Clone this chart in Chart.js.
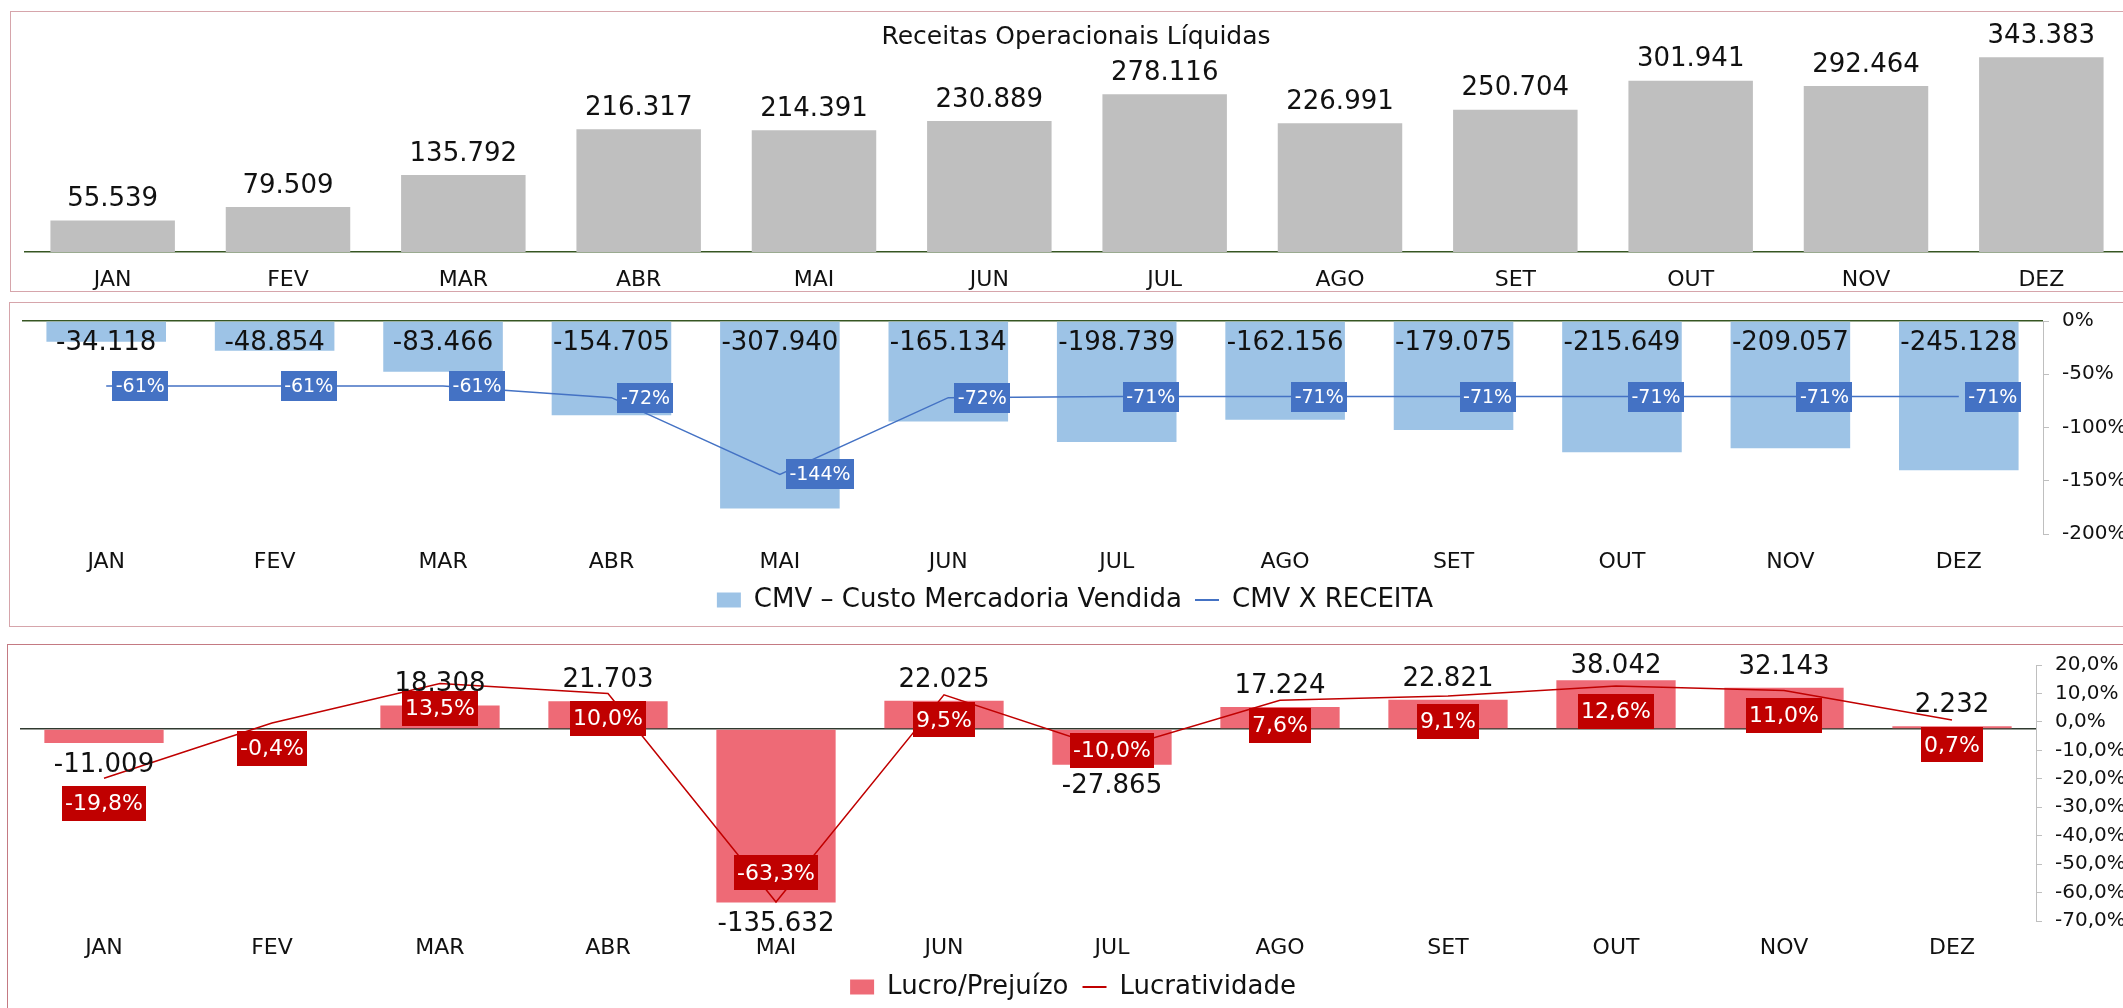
<!DOCTYPE html>
<html>
<head>
<meta charset="utf-8">
<script src="https://cdn.jsdelivr.net/npm/chart.js@4.4.0/dist/chart.umd.min.js"></script>
<style>
  html, body { margin: 0; padding: 0; background: #fff; overflow: hidden; }
  #wrap { position: relative; width: 2123px; height: 1008px; overflow: hidden; }
  .frame { position: absolute; border: 1.5px solid #d6a5ab; border-right: none; box-sizing: border-box; }
  canvas { position: absolute; left: 0; }
</style>
</head>
<body>
<div id="wrap">
  <div class="frame" style="left:10px; top:11px; width:2200px; height:281px;"></div>
  <div class="frame" style="left:9px; top:302px; width:2200px; height:325px;"></div>
  <div class="frame" style="left:7px; top:644px; width:2200px; height:400px; border-color:#c47a83;"></div>
  <canvas id="receitas" width="2150" height="300" style="top:0"></canvas>
  <canvas id="cmv" width="2150" height="335" style="top:295px"></canvas>
  <canvas id="lucro" width="2150" height="375" style="top:640px"></canvas>
</div>
<script>
// dados
const meses = ["JAN", "FEV", "MAR", "ABR", "MAI", "JUN", "JUL", "AGO", "SET", "OUT", "NOV", "DEZ"];
const receitas = [55539, 79509, 135792, 216317, 214391, 230889, 278116, 226991, 250704, 301941, 292464, 343383];
const cmv = [-34118, -48854, -83466, -154705, -307940, -165134, -198739, -162156, -179075, -215649, -209057, -245128];
const cmvXReceita = [-61, -61, -61, -72, -144, -72, -71, -71, -71, -71, -71, -71];
const lucro = [-11009, -318, 18308, 21703, -135632, 22025, -27865, 17224, 22821, 38042, 32143, 2232];
const lucratividade = [-19.8, -0.4, 13.5, 10.0, -63.3, 9.5, -10.0, 7.6, 9.1, 12.6, 11.0, 0.7];
const ticksCmvPct = [0, -50, -100, -150, -200];
const ticksLucroPct = [20, 10, 0, -10, -20, -30, -40, -50, -60, -70];

const FONT = '"DejaVu Sans", sans-serif';
const TXT = '#111';

const fmtInt = v => (v < 0 ? '-' : '') + Math.abs(Math.round(v)).toString().replace(/\B(?=(\d{3})+(?!\d))/g, '.');
const fmtPct1 = v => v.toFixed(1).replace('.', ',') + '%';

// rótulos das barras
function barLabelsPlugin(mode) {
    return {
        id: 'barLabels',
        afterDatasetsDraw(chart) {
            const ctx = chart.ctx;
            const ds = chart.data.datasets[0];
            const meta = chart.getDatasetMeta(0);
            const zero = chart.scales.y.getPixelForValue(0);
            ctx.save();
            ctx.font = '26px ' + FONT;
            ctx.fillStyle = TXT;
            ctx.textAlign = 'center';
            ctx.textBaseline = 'middle';
            meta.data.forEach((bar, i) => {
                const v = ds.data[i];
                let y;
                if (mode === 'base') y = zero + 22;
                else y = v >= 0 ? bar.y - 21 : bar.y + 22;
                y = Math.max(y, chart.chartArea.top + 1);
                ctx.fillText(fmtInt(v), bar.x, y);
            });
            ctx.restore();
        }
    };
}

// caixas com o percentual da linha
function lineBoxesPlugin(cfg) {
    return {
        id: 'lineBoxes',
        afterDatasetsDraw(chart) {
            const ctx = chart.ctx;
            const ds = chart.data.datasets[1];
            const meta = chart.getDatasetMeta(1);
            ctx.save();
            ctx.font = cfg.size + 'px ' + FONT;
            ctx.textBaseline = 'middle';
            ctx.textAlign = 'center';
            meta.data.forEach((pt, i) => {
                const text = cfg.format(ds.data[i]);
                const w = ctx.measureText(text).width + cfg.padX;
                const h = cfg.height;
                let cx, cy;
                if (cfg.side === 'right') {
                    cx = pt.x + 6 + w / 2;
                    cy = pt.y;
                } else {
                    const pos = cfg.positions[i];
                    cx = pt.x;
                    cy = pos === 'above' ? pt.y - 29 : pos === 'center' ? pt.y : pt.y + 25;
                }
                ctx.fillStyle = cfg.bg;
                ctx.fillRect(Math.round(cx - w / 2), Math.round(cy - h / 2), Math.round(w), h);
                ctx.fillStyle = '#fff';
                ctx.fillText(text, cx, cy + 1);
            });
            ctx.restore();
        }
    };
}

const titlePlugin = {
    id: 'overlayTitle',
    afterDraw(chart) {
        const ctx = chart.ctx;
        ctx.save();
        ctx.font = '25px ' + FONT;
        ctx.fillStyle = TXT;
        ctx.textAlign = 'center';
        ctx.textBaseline = 'middle';
        ctx.fillText('Receitas Operacionais Líquidas', 1076, 37);
        ctx.restore();
    }
};

function legendOpts(padding) {
    return {
        display: true,
        position: 'bottom',
        labels: {
            font: { family: FONT, size: 26 },
            color: TXT,
            usePointStyle: true,
            pointStyleWidth: 24,
            boxHeight: 15,
            padding: padding,
            generateLabels(chart) {
                const items = Chart.defaults.plugins.legend.labels.generateLabels(chart);
                items.sort((a, b) => a.datasetIndex - b.datasetIndex);
                items.forEach(it => {
                    const ds = chart.data.datasets[it.datasetIndex];
                    if (ds.type === 'line') {
                        it.pointStyle = 'line';
                        it.strokeStyle = ds.borderColor;
                        it.lineWidth = 2;
                    } else {
                        it.pointStyle = 'rect';
                        it.fillStyle = ds.backgroundColor;
                        it.lineWidth = 0;
                    }
                });
                return items;
            }
        }
    };
}

// eixo de categorias; a altura é fixada porque o Chart.js dobra o padding no fit
function xAxis(padding, height, border) {
    return {
        grid: { display: false, drawTicks: false },
        border: { display: border, color: '#375623', width: 1.5 },
        ticks: { font: { family: FONT, size: 22 }, color: TXT, padding: padding, maxRotation: 0, autoSkip: false },
        afterFit: s => { s.height = height; }
    };
}

function zeroAxis(min, max, step, color) {
    return {
        position: 'left',
        min: min, max: max,
        ticks: { display: false, stepSize: step },
        grid: {
            drawTicks: false,
            lineWidth: 1.5,
            color: c => (c.tick && c.tick.value === 0) ? color : 'rgba(0,0,0,0)'
        },
        border: { display: false },
        afterFit: s => { s.width = 0; }
    };
}

function pctAxis(min, max, step, fmt, width) {
    return {
        position: 'right',
        min: min, max: max,
        ticks: { stepSize: step, callback: fmt, autoSkip: false, font: { family: FONT, size: 20 }, color: TXT, padding: 13 },
        grid: { drawOnChartArea: false, drawTicks: true, tickLength: 6, color: '#bfbfbf' },
        border: { display: true, color: '#bfbfbf', width: 1 },
        afterFit: s => { s.width = width; }
    };
}

Chart.defaults.font.family = FONT;

// Receitas
new Chart(document.getElementById('receitas'), {
    type: 'bar',
    data: {
        labels: meses,
        datasets: [{
            label: 'Receitas Operacionais Líquidas',
            data: receitas,
            backgroundColor: '#bfbfbf',
            barPercentage: 0.71,
            categoryPercentage: 1.0
        }]
    },
    options: {
        responsive: false,
        animation: false,
        layout: { padding: { left: 25, right: 21, top: 25, bottom: 8 } },
        plugins: { legend: { display: false }, tooltip: { enabled: false } },
        scales: {
            x: xAxis(15, 40, true),
            y: { display: false, min: 0, max: 400000 }
        }
    },
    plugins: [barLabelsPlugin('outside'), titlePlugin]
});

// CMV
new Chart(document.getElementById('cmv'), {
    type: 'bar',
    data: {
        labels: meses,
        datasets: [{
            label: 'CMV – Custo Mercadoria Vendida',
            data: cmv,
            backgroundColor: '#9dc3e6',
            barPercentage: 0.71,
            categoryPercentage: 1.0,
            yAxisID: 'y',
            order: 1
        }, {
            type: 'line',
            label: 'CMV X RECEITA',
            data: cmvXReceita,
            borderColor: '#4472c4',
            backgroundColor: '#4472c4',
            borderWidth: 1.5,
            pointRadius: 0,
            tension: 0,
            yAxisID: 'y1',
            order: 0
        }]
    },
    options: {
        responsive: false,
        animation: false,
        layout: { padding: { left: 22, right: 22, top: 26, bottom: 7 } },
        plugins: { legend: legendOpts(13), tooltip: { enabled: false } },
        scales: {
            x: xAxis(15, 40, false),
            y: zeroAxis(-350000, 0, 50000, '#375623'),
            y1: pctAxis(ticksCmvPct[4], ticksCmvPct[0], 50, v => v + '%', 85)
        }
    },
    plugins: [barLabelsPlugin('base'), lineBoxesPlugin({
        side: 'right', size: 19, padX: 7, height: 30, bg: '#4472c4',
        format: v => Math.round(v) + '%'
    })]
});

// Lucro / Prejuízo
new Chart(document.getElementById('lucro'), {
    type: 'bar',
    data: {
        labels: meses,
        datasets: [{
            label: 'Lucro/Prejuízo',
            data: lucro,
            backgroundColor: '#ee6a76',
            barPercentage: 0.71,
            categoryPercentage: 1.0,
            yAxisID: 'y',
            order: 1
        }, {
            type: 'line',
            label: 'Lucratividade',
            data: lucratividade,
            borderColor: '#c00000',
            backgroundColor: '#c00000',
            borderWidth: 1.5,
            pointRadius: 0,
            tension: 0,
            yAxisID: 'y1',
            order: 0
        }]
    },
    options: {
        responsive: false,
        animation: false,
        layout: { padding: { left: 20, right: 24, top: 24, bottom: 5 } },
        plugins: { legend: legendOpts(14), tooltip: { enabled: false } },
        scales: {
            x: xAxis(14, 39, false),
            y: zeroAxis(-150000, 50000, 50000, '#2f3a2f'),
            y1: pctAxis(ticksLucroPct[9], ticksLucroPct[0], 10, v => fmtPct1(v), 90)
        }
    },
    plugins: [barLabelsPlugin('outside'), lineBoxesPlugin({
        side: 'custom', size: 22, padX: 6, height: 35, bg: '#c00000',
        positions: ['below', 'below', 'below', 'below', 'above', 'below', 'center', 'below', 'below', 'below', 'below', 'below'],
        format: fmtPct1
    })]
});
</script>
</body>
</html>
